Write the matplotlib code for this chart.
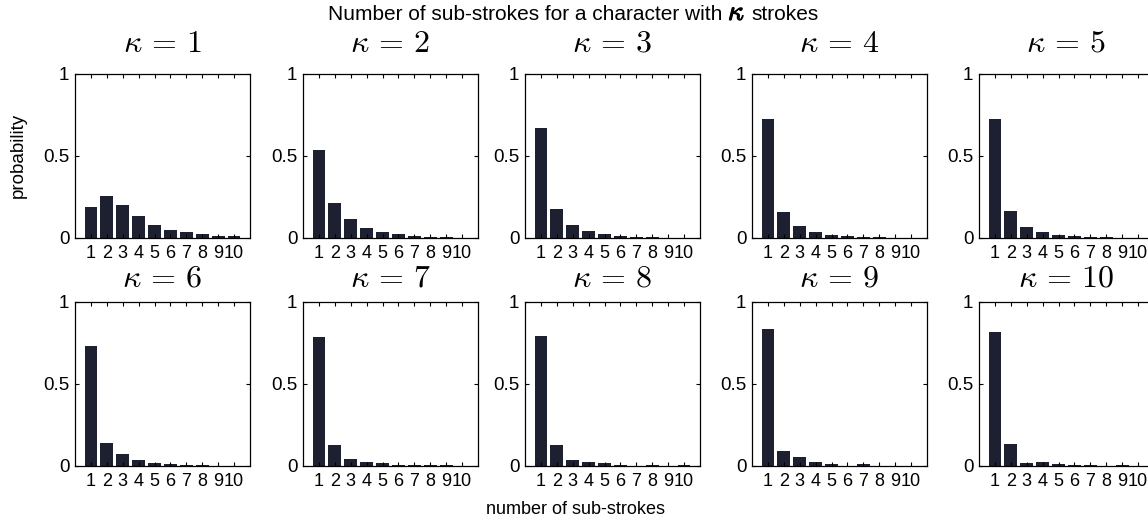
import matplotlib
matplotlib.use("Agg")
import matplotlib.pyplot as plt
import matplotlib.patheffects as pe
import numpy as np

plt.rcParams['font.family'] = ['Liberation Sans', 'DejaVu Sans']
plt.rcParams['mathtext.fontset'] = 'cm'

sub_strokes = list(range(1, 11))
tick_labels = [str(i) for i in sub_strokes]
kappas = list(range(1, 11))

p_k1 = [0.19, 0.256, 0.20, 0.133, 0.078, 0.051, 0.037, 0.025, 0.014, 0.010]
p_k2 = [0.539, 0.212, 0.118, 0.061, 0.035, 0.024, 0.014, 0.008, 0.004, 0.002]
p_k3 = [0.672, 0.176, 0.080, 0.045, 0.025, 0.014, 0.008, 0.004, 0.002, 0.002]
p_k4 = [0.726, 0.157, 0.072, 0.037, 0.020, 0.012, 0.008, 0.004, 0.002, 0.002]
p_k5 = [0.723, 0.164, 0.066, 0.037, 0.020, 0.012, 0.006, 0.004, 0.002, 0.002]
p_k6 = [0.731, 0.140, 0.071, 0.035, 0.018, 0.012, 0.004, 0.004, 0.002, 0.002]
p_k7 = [0.788, 0.128, 0.043, 0.026, 0.016, 0.006, 0.004, 0.004, 0.004, 0.002]
p_k8 = [0.794, 0.126, 0.039, 0.026, 0.016, 0.004, 0.002, 0.004, 0.002, 0.004]
p_k9 = [0.834, 0.089, 0.055, 0.026, 0.014, 0.002, 0.012, 0.002, 0.002, 0.002]
p_k10 = [0.819, 0.132, 0.016, 0.026, 0.012, 0.004, 0.004, 0.002, 0.006, 0.002]

probs = [p_k1, p_k2, p_k3, p_k4, p_k5, p_k6, p_k7, p_k8, p_k9, p_k10]

W, H = 1148, 523
fig = plt.figure(figsize=(W / 100, H / 100), dpi=100)

lefts = [75, 303, 525, 752, 979]
tops = [74, 302]
title_pads = [16, 11]
aw, ah = 175, 164
bar_color = '#1c2030'

for i, (k, p) in enumerate(zip(kappas, probs)):
    r, c = divmod(i, 5)
    l = lefts[c]
    t = tops[r]
    ax = fig.add_axes([l / W, 1 - (t + ah) / H, aw / W, ah / H])
    ax.bar(sub_strokes, p, width=0.8, color=bar_color, edgecolor='none')
    ax.set_xlim(0, 11)
    ax.set_ylim(0, 1)
    ax.set_xticks(sub_strokes)
    ax.set_xticklabels(tick_labels, fontsize=13)
    ax.set_yticks([0, 0.5, 1])
    ax.set_yticklabels(['0', '0.5', '1'], fontsize=13.5)
    ax.tick_params(direction='in', length=3, width=0.8, top=True, right=True, pad=4)
    ax.tick_params(axis='x', pad=5)
    for s in ax.spines.values():
        s.set_linewidth(0.9)
    ax.set_title(r'$\kappa\,=\,%d$' % k, fontsize=23, pad=title_pads[r])

# super title composed of three parts (larger kappa)
renderer = fig.canvas.get_renderer()
y_sup = 1 - 20 / H
fs_sup = 15
t1 = fig.text(0, y_sup, 'Number of sub-strokes for a character with',
              ha='left', va='baseline', fontsize=fs_sup)
t2 = fig.text(0, y_sup, r'$\kappa$', ha='left', va='baseline', fontsize=20,
              path_effects=[pe.withStroke(linewidth=0.8, foreground='black')])
t3 = fig.text(0, y_sup, 'strokes', ha='left', va='baseline', fontsize=fs_sup)
w1 = t1.get_window_extent(renderer).width
w2 = t2.get_window_extent(renderer).width
w3 = t3.get_window_extent(renderer).width
gap = 6
total = w1 + gap + w2 + gap + w3
x0 = 573 - total / 2
t1.set_x(x0 / W)
t2.set_x((x0 + w1 + gap) / W)
t3.set_x((x0 + w1 + gap + w2 + gap) / W)

fig.text(18 / W, 1 - 155 / H, 'probability', rotation=90,
         ha='center', va='center', fontsize=13.5)
fig.text(575 / W, 1 - 510 / H, 'number of sub-strokes',
         ha='center', va='center', fontsize=13)

fig.savefig('out.png', dpi=100)
